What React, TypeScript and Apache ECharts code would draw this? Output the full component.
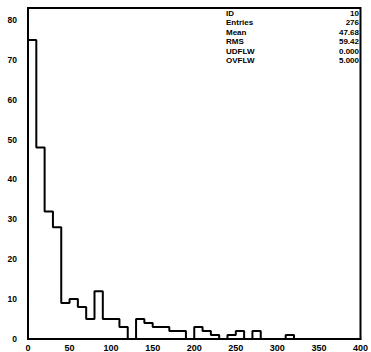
import React, { useEffect, useRef } from "react";
import * as echarts from "echarts";

const binStart = 0;
const binWidth = 10;
const counts = [
  75, 48, 32, 28, 9, 10, 8, 5, 12, 5,
  5, 3, 0, 5, 4, 3, 3, 2, 2, 0,
  3, 2, 1, 0, 1, 2, 0, 2, 0, 0,
  0, 1, 0, 0, 0, 0, 0, 0, 0, 0,
];
const xMin = 0;
const xMax = 400;
const xStep = 50;
const yMin = 0;
const yMax = 83;
const yStep = 10;

const statNames = ["ID", "Entries", "Mean", "RMS", "UDFLW", "OVFLW"];
const statValues = ["10", "276", "47.68", "59.42", "0.000", "5.000"];

export default function App() {
  const ref = useRef<HTMLDivElement>(null);
  useEffect(() => {
    if (!ref.current) return;
    const chart = echarts.init(ref.current, null, { renderer: "svg" });
    const data: number[][] = [[binStart, 0]];
    counts.forEach((c, i) => data.push([binStart + i * binWidth, c]));
    const end = binStart + counts.length * binWidth;
    data.push([end, 0]);

    const font = "Liberation Sans";
    const graphics: any[] = [];
    statNames.forEach((n, i) => {
      const y = 13 + i * 9.5;
      graphics.push({
        type: "text",
        x: 226,
        y,
        style: { text: n, font: `bold 8px '${font}'`, fill: "#000", textAlign: "left", textVerticalAlign: "middle" },
      });
      graphics.push({
        type: "text",
        x: 359,
        y,
        style: { text: statValues[i], font: `bold 8px '${font}'`, fill: "#000", textAlign: "right", textVerticalAlign: "middle" },
      });
    });

    chart.setOption({
      animation: false,
      backgroundColor: "#fff",
      grid: {
        left: 28,
        top: 8,
        width: 335,
        height: 331,
        show: true,
        borderColor: "#000",
        borderWidth: 2,
        backgroundColor: "transparent",
      },
      xAxis: {
        type: "value",
        min: xMin,
        max: xMax,
        interval: xStep,
        axisLine: { show: true, lineStyle: { color: "#000", width: 2 } },
        axisTick: { show: false },
        splitLine: { show: false },
        axisLabel: {
          color: "#000",
          fontFamily: font,
          fontWeight: "bold",
          fontSize: 9,
          margin: 4,
        },
      },
      yAxis: {
        type: "value",
        min: yMin,
        max: yMax,
        interval: yStep,
        axisLine: { show: true, lineStyle: { color: "#000", width: 2 } },
        axisTick: { show: false },
        splitLine: { show: false },
        axisLabel: {
          color: "#000",
          fontFamily: font,
          fontWeight: "bold",
          fontSize: 8.5,
          margin: 11,
          showMaxLabel: false,
        },
      },
      series: [
        {
          type: "line",
          step: "end",
          data,
          symbol: "none",
          lineStyle: { color: "#000", width: 2 },
        },
      ],
      graphic: graphics,
    });
    return () => chart.dispose();
  }, []);
  return (
    <div
      ref={ref}
      style={{ position: "fixed", left: 0, top: 0, width: 371, height: 352, background: "#fff" }}
    />
  );
}
